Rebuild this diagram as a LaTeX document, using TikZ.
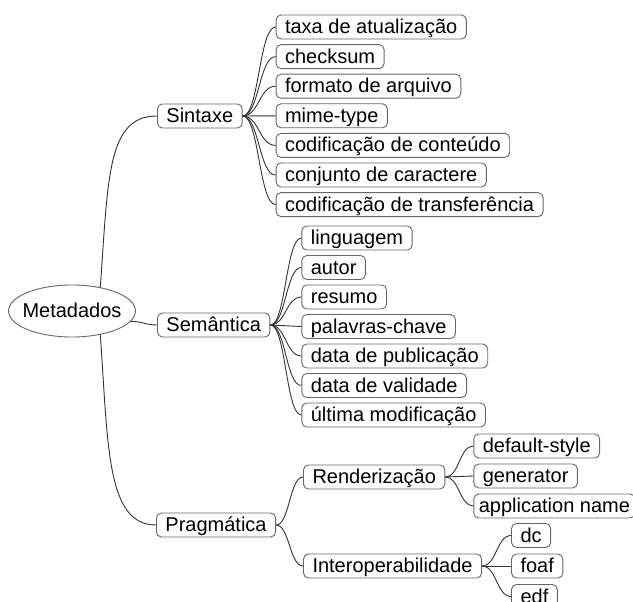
\documentclass[tikz,border=0pt]{standalone}
\usepackage{fontspec}
\setmainfont{Liberation Sans}
\usetikzlibrary{positioning,shapes.geometric}

\begin{document}
\begin{tikzpicture}[
        x=1pt, y=-1pt, % coordinate come pixel, y verso il basso
        every node/.style={font=\fontsize{20pt}{24pt}\selectfont, text height=17.5pt, text depth=4.5pt},
        topic/.style={draw=black!60, line width=0.9pt, rounded corners=5pt, fill=white, inner xsep=9pt, inner ysep=1pt, anchor=west},
        radice/.style={ellipse, draw=black!60, line width=0.9pt, fill=white, minimum width=127pt, minimum height=52pt, inner xsep=-5pt, inner ysep=0pt},
        ramo/.style={to path={.. controls +(#1,0) and +(-#1,0) .. (\tikztotarget)}},
        ramo/.default=15pt, % meta' dello spazio tra padre e figlio
        filo/.style={draw=black!80, line width=0.9pt}
    ]
    \useasboundingbox (0,0) rectangle (633,602);

    \node[radice] (meta) at (72,311) {Metadados};
    \node[topic] (sintaxe) at (157,116) {Sintaxe};
    \node[topic] (semantica) at (157,325) {Semântica};
    \node[topic] (pragmatica) at (156,525) {Pragmática};

    % Sintaxe
    \node[topic, right=33pt of sintaxe.east, yshift=89pt] (taxa) {taxa de atualização};
    \node[topic, below=4.7pt of taxa.south west, anchor=north west] (checksum) {checksum};
    \node[topic, below=4.7pt of checksum.south west, anchor=north west] (formato) {formato de arquivo};
    \node[topic, below=4.7pt of formato.south west, anchor=north west] (mime) {mime-type};
    \node[topic, below=4.7pt of mime.south west, anchor=north west] (codconteudo) {codificação de conteúdo};
    \node[topic, below=4.7pt of codconteudo.south west, anchor=north west] (conjunto) {conjunto de caractere};
    \node[topic, below=4.7pt of conjunto.south west, anchor=north west] (codtransf) {codificação de transferência};

    % Semantica
    \node[topic, right=31pt of semantica.east, yshift=87pt] (linguagem) {linguagem};
    \node[topic, below=4.6pt of linguagem.south west, anchor=north west] (autor) {autor};
    \node[topic, below=4.6pt of autor.south west, anchor=north west] (resumo) {resumo};
    \node[topic, below=4.6pt of resumo.south west, anchor=north west] (palavras) {palavras-chave};
    \node[topic, below=4.6pt of palavras.south west, anchor=north west] (publicacao) {data de publicação};
    \node[topic, below=4.6pt of publicacao.south west, anchor=north west] (validade) {data de validade};
    \node[topic, below=4.6pt of validade.south west, anchor=north west] (modificacao) {última modificação};

    % Pragmatica
    \node[topic, right=27pt of pragmatica.east, yshift=48pt] (render) {Renderização};
    \node[topic, right=27pt of pragmatica.east, yshift=-41pt] (interop) {Interoperabilidade};
    \node[topic, right=28pt of render.east, yshift=31pt] (defstyle) {default-style};
    \node[topic, below=5.1pt of defstyle.south west, anchor=north west] (generator) {generator};
    \node[topic, below=5.1pt of generator.south west, anchor=north west, inner xsep=5pt] (appname) {application name};
    \node[topic, right=29pt of interop.east, yshift=30.5pt] (dc) {dc};
    \node[topic, below=5.6pt of dc.south west, anchor=north west] (foaf) {foaf};
    \node[topic, below=5.6pt of foaf.south west, anchor=north west] (edf) {edf};

    % rami
    \draw[filo] (meta.40) .. controls +(8pt,110pt) and +(-50pt,0pt) .. (sintaxe.west);
    \draw[filo] (meta.-10) to[ramo=12pt] (semantica.west);
    \draw[filo] (meta.-40) .. controls +(8pt,-110pt) and +(-50pt,0pt) .. (pragmatica.west);

    \draw[filo] (sintaxe.east) to[ramo=16.5pt] (taxa.west);
    \draw[filo] (sintaxe.east) to[ramo=16.5pt] (checksum.west);
    \draw[filo] (sintaxe.east) to[ramo=16.5pt] (formato.west);
    \draw[filo] (sintaxe.east) to[ramo=16.5pt] (mime.west);
    \draw[filo] (sintaxe.east) to[ramo=16.5pt] (codconteudo.west);
    \draw[filo] (sintaxe.east) to[ramo=16.5pt] (conjunto.west);
    \draw[filo] (sintaxe.east) to[ramo=16.5pt] (codtransf.west);

    \draw[filo] (semantica.east) to[ramo=15.5pt] (linguagem.west);
    \draw[filo] (semantica.east) to[ramo=15.5pt] (autor.west);
    \draw[filo] (semantica.east) to[ramo=15.5pt] (resumo.west);
    \draw[filo] (semantica.east) to[ramo=15.5pt] (palavras.west);
    \draw[filo] (semantica.east) to[ramo=15.5pt] (publicacao.west);
    \draw[filo] (semantica.east) to[ramo=15.5pt] (validade.west);
    \draw[filo] (semantica.east) to[ramo=15.5pt] (modificacao.west);

    \draw[filo] (pragmatica.east) to[ramo=13.5pt] (render.west);
    \draw[filo] (pragmatica.east) to[ramo=13.5pt] (interop.west);
    \draw[filo] (render.east) to[ramo=14pt] (defstyle.west);
    \draw[filo] (render.east) to[ramo=14pt] (generator.west);
    \draw[filo] (render.east) to[ramo=14pt] (appname.west);
    \draw[filo] (interop.east) to[ramo=14.5pt] (dc.west);
    \draw[filo] (interop.east) to[ramo=14.5pt] (foaf.west);
    \draw[filo] (interop.east) to[ramo=14.5pt] (edf.west);
\end{tikzpicture}
\end{document}
